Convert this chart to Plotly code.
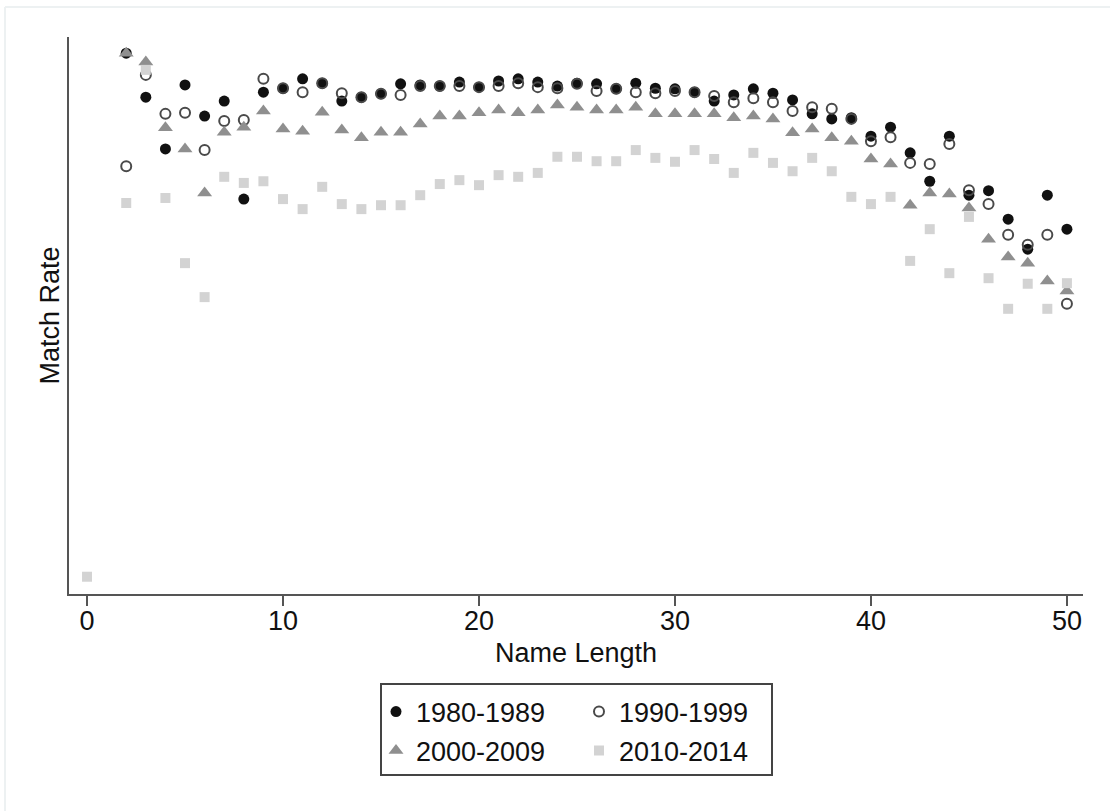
import plotly.graph_objects as go

name_length = list(range(0, 51))

# Match rate by name length for each birth cohort (None = no observation)
rate_1980_1989 = [None, None,
    0.971, 0.892, 0.799, 0.914, 0.858, 0.885, 0.709, 0.901, 0.908,
    0.925, 0.917, 0.885, 0.892, 0.898, 0.916, 0.914, 0.912, 0.919, 0.910,
    0.921, 0.925, 0.919, 0.912, 0.917, 0.916, 0.907, 0.917, 0.908, 0.907,
    0.901, 0.885, 0.896, 0.907, 0.899, 0.887, 0.862, 0.853, 0.855, 0.822,
    0.838, 0.792, 0.741, 0.822, 0.716, 0.724, 0.673, 0.619, 0.716, 0.655]
rate_1990_1999 = [None, None,
    0.768, 0.932, 0.862, 0.864, 0.797, 0.849, 0.851, 0.925, 0.908,
    0.901, 0.917, 0.899, 0.892, 0.898, 0.896, 0.912, 0.912, 0.912, 0.910,
    0.912, 0.917, 0.910, 0.908, 0.916, 0.903, 0.907, 0.901, 0.899, 0.903,
    0.901, 0.894, 0.883, 0.890, 0.883, 0.867, 0.874, 0.871, 0.853, 0.813,
    0.820, 0.774, 0.772, 0.808, 0.725, 0.700, 0.645, 0.627, 0.645, 0.521]
rate_2000_2009 = [None, None,
    0.971, 0.955, 0.837, 0.799, 0.720, 0.829, 0.838, 0.867, 0.835,
    0.831, 0.865, 0.833, 0.819, 0.829, 0.829, 0.844, 0.858, 0.858, 0.864,
    0.869, 0.864, 0.869, 0.878, 0.874, 0.869, 0.869, 0.874, 0.862, 0.862,
    0.862, 0.862, 0.855, 0.858, 0.853, 0.828, 0.835, 0.819, 0.813, 0.781,
    0.772, 0.698, 0.720, 0.718, 0.693, 0.637, 0.605, 0.594, 0.562, 0.544]
rate_2010_2014 = [0.031, None,
    0.702, 0.941, 0.711, 0.594, 0.533, 0.749, 0.738, 0.741, 0.709,
    0.691, 0.731, 0.700, 0.691, 0.698, 0.698, 0.716, 0.736, 0.743, 0.734,
    0.752, 0.749, 0.756, 0.785, 0.785, 0.777, 0.777, 0.797, 0.783, 0.776,
    0.797, 0.781, 0.756, 0.792, 0.774, 0.759, 0.783, 0.759, 0.713, 0.700,
    0.713, 0.598, 0.655, 0.576, 0.677, 0.567, 0.512, 0.557, 0.512, 0.558]

series_names = ["1980-1989", "1990-1999", "2000-2009", "2010-2014"]
x_ticks = [0, 10, 20, 30, 40, 50]

FONT = "Liberation Sans, Arial, Helvetica, sans-serif"
FS = 27

fig = go.Figure()
fig.add_trace(go.Scatter(x=name_length, y=rate_1980_1989, mode="markers", name=series_names[0],
                         marker=dict(symbol="circle", size=11, color="#111111",
                                     line=dict(width=0)), legend="legend"))
fig.add_trace(go.Scatter(x=name_length, y=rate_1990_1999, mode="markers", name=series_names[1],
                         marker=dict(symbol="circle-open", size=10, color="#4a4a4a",
                                     line=dict(width=2, color="#4a4a4a")), legend="legend"))
fig.add_trace(go.Scatter(x=name_length, y=rate_2000_2009, mode="markers", name=series_names[2],
                         marker=dict(symbol="triangle-up", size=13, color="#8f8f8f",
                                     line=dict(width=0)), legend="legend2"))
fig.add_trace(go.Scatter(x=name_length, y=rate_2010_2014, mode="markers", name=series_names[3],
                         marker=dict(symbol="square", size=10, color="#d3d3d3",
                                     line=dict(width=0)), legend="legend2"))

W, H = 1110, 811
L, R, T, B = 69, 27, 37, 217

legend_common = dict(orientation="h", xref="container", yref="container",
                     xanchor="left", yanchor="middle", bgcolor="rgba(0,0,0,0)",
                     borderwidth=0, entrywidth=158, entrywidthmode="pixels",
                     font=dict(family=FONT, size=FS, color="#111111"),
                     itemsizing="trace", traceorder="normal")

fig.update_layout(
    width=W, height=H,
    margin=dict(l=L, r=R, t=T, b=B, pad=0),
    paper_bgcolor="white", plot_bgcolor="white",
    font=dict(family=FONT, size=FS, color="#111111"),
    showlegend=True,
    legend=dict(x=(381 - 5) / W, y=1 - 712 / H, **legend_common),
    legend2=dict(x=(381 - 5) / W, y=1 - 751 / H, **legend_common),
    xaxis=dict(range=[-0.92, 50.82], tickvals=x_ticks, ticks="outside", ticklen=10,
               tickwidth=2, tickcolor="#555555", showline=True, linecolor="#555555",
               linewidth=2, showgrid=False, zeroline=False, ticklabelstandoff=-8,
               tickfont=dict(family=FONT, size=FS, color="#111111"),
               title=dict(text="Name Length", standoff=8,
                          font=dict(family=FONT, size=FS, color="#111111"))),
    yaxis=dict(range=[0, 1], showticklabels=False, ticks="", showline=True,
               linecolor="#555555", linewidth=2, showgrid=False, zeroline=False,
               title=dict(text="Match Rate", standoff=0,
                          font=dict(family=FONT, size=FS, color="#111111"))),
)

pw, ph = W - L - R, H - T - B

def px_x(p):
    return (p - L) / pw

def px_y(p):
    return (H - B - p) / ph

# Legend frame
fig.add_shape(type="rect", xref="paper", yref="paper",
              x0=px_x(381), x1=px_x(772), y0=px_y(775), y1=px_y(684),
              line=dict(color="#444444", width=2), fillcolor="rgba(0,0,0,0)")
# Faint outer graph-region edge (top and left)
fig.add_shape(type="line", xref="paper", yref="paper",
              x0=px_x(5), x1=px_x(1112), y0=px_y(7), y1=px_y(7),
              line=dict(color="#edf1f2", width=2))
fig.add_shape(type="line", xref="paper", yref="paper",
              x0=px_x(5), x1=px_x(5), y0=px_y(7), y1=px_y(813),
              line=dict(color="#edf1f2", width=2))

fig.write_html("out.html")
